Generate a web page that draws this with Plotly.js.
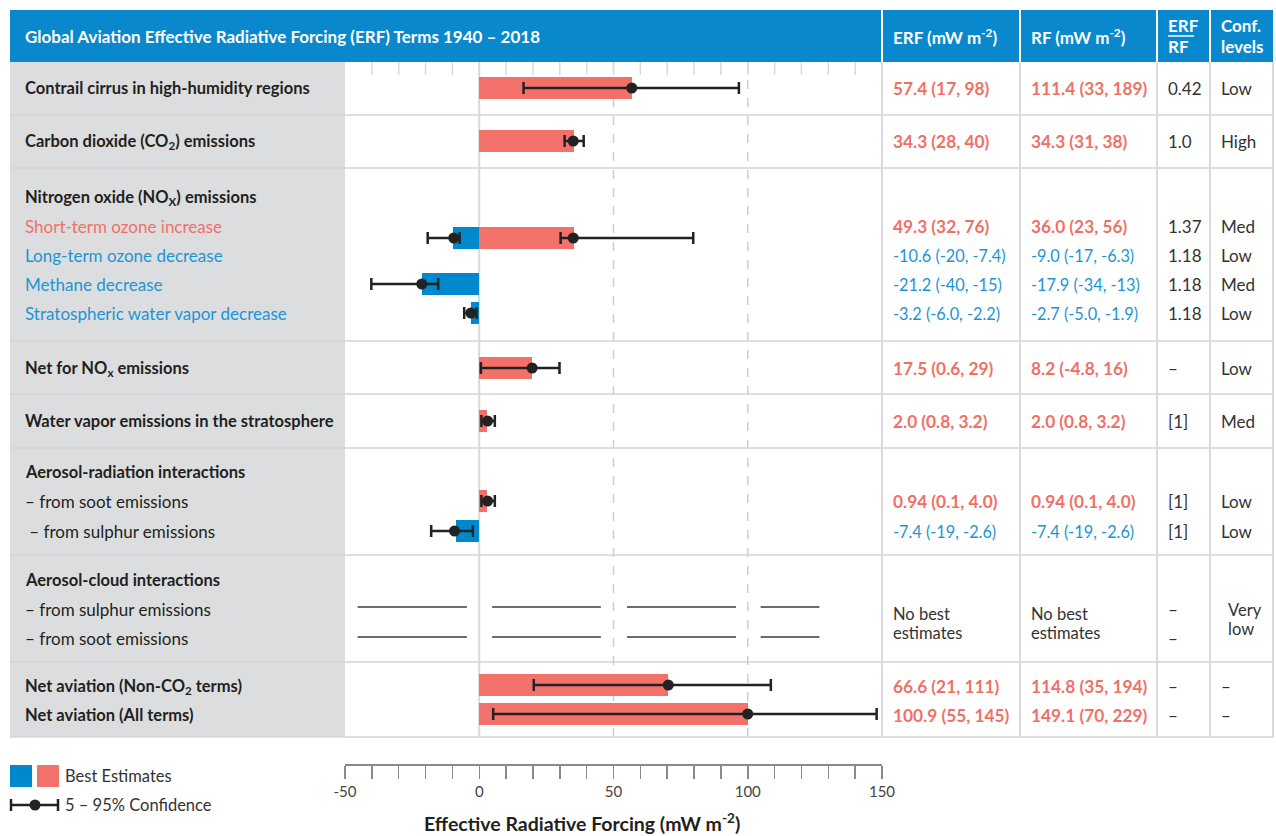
<!DOCTYPE html>
<html><head><meta charset="utf-8">
<script src="https://cdn.plot.ly/plotly-3.0.1.min.js"></script>
<style>html,body{margin:0;padding:0;background:#fff}#chart{width:1276px;height:836px}</style>
</head><body><div id="chart"></div><script>
// ---------------- data ----------------
const barTerms = ["Contrail cirrus", "Carbon dioxide", "Short-term ozone increase", "Long-term ozone decrease",
  "Methane decrease", "Stratospheric water vapor decrease", "Net for NOx", "Water vapor (stratosphere)",
  "Soot (aerosol-radiation)", "Sulphur (aerosol-radiation)", "Net aviation (Non-CO2)", "Net aviation (All)"];
const barValues = [57.0, 35.3, 35.3, -9.9, -21.4, -3.1, 19.8, 3.0, 3.0, -8.8, 70.4, 100.0];
const bestValues = [56.8, 35.0, 35.0, -9.5, -21.4, -3.1, 19.7, 3.1, 3.1, -9.2, 70.4, 100.0];
const lowValues = [16.5, 31.8, 30.3, -19.2, -40.2, -5.6, 0.6, 0.8, 0.8, -17.9, 20.3, 5.2];
const highValues = [96.7, 38.9, 79.7, -7.3, -15.3, -1.0, 29.9, 5.8, 5.8, -2.4, 108.6, 148.0];

const rowLabels = ["Contrail cirrus in high-humidity regions", "Carbon dioxide (CO<sub>2</sub>) emissions",
  "Nitrogen oxide (NO<sub>X</sub>) emissions", "Short-term ozone increase", "Long-term ozone decrease",
  "Methane decrease", "Stratospheric water vapor decrease", "Net for NO<sub>x</sub> emissions",
  "Water vapor emissions in the stratosphere", "Aerosol-radiation interactions", "– from soot emissions",
  " – from sulphur emissions", "Aerosol-cloud interactions", "– from sulphur emissions", "– from soot emissions",
  "Net aviation (Non-CO<sub>2</sub> terms)", "Net aviation (All terms)"];
const erfText = ["57.4 (17, 98)", "34.3 (28, 40)", "", "49.3 (32, 76)", "-10.6 (-20, -7.4)", "-21.2 (-40, -15)",
  "-3.2 (-6.0, -2.2)", "17.5 (0.6, 29)", "2.0 (0.8, 3.2)", "", "0.94 (0.1, 4.0)", "-7.4 (-19, -2.6)", "", "", "",
  "66.6 (21, 111)", "100.9 (55, 145)"];
const rfText = ["111.4 (33, 189)", "34.3 (31, 38)", "", "36.0 (23, 56)", "-9.0 (-17, -6.3)", "-17.9 (-34, -13)",
  "-2.7 (-5.0, -1.9)", "8.2 (-4.8, 16)", "2.0 (0.8, 3.2)", "", "0.94 (0.1, 4.0)", "-7.4 (-19, -2.6)", "", "", "",
  "114.8 (35, 194)", "149.1 (70, 229)"];
const ratioText = ["0.42", "1.0", "", "1.37", "1.18", "1.18", "1.18", "–", "[1]", "", "[1]", "[1]", "", "–", "–", "–", "–"];
const confText = ["Low", "High", "", "Med", "Low", "Med", "Low", "Low", "Med", "", "Low", "Low", "", "", "", "–", "–"];
const noEstimateText = ["No best", "estimates"];
const veryLowText = ["Very", "low"];
const axisTickVals = [-50, 0, 50, 100, 150];
const axisTickLabels = ["-50", "0", "50", "100", "150"];
const minorStep = 10;

// ---------------- layout (positions & styles) ----------------
const W = 1276, H = 836;
const px = v => v / W;
const py = v => 1 - v / H;
const barSlotY = [88, 141, 238, 238, 284, 313, 368, 421, 501, 531, 685, 714];
const lineY = [88, 141, 197, 226, 255, 284, 313, 368, 421, 472, 501, 531, 580, 609, 638, 686, 715];
const labelStyle = ["b","b","b","r","bl","bl","bl","b","b","b","d","d","b","d","d","b","b"];
const valueStyle = ["r","r","","r","bl","bl","bl","r","r","","r","bl","","","","r","r"];
const rowLines = [115, 168, 341, 394, 448, 555, 662, 737];
const colLines = [882, 1020, 1157, 1210, 1273];

const FONT = "Lato, 'Open Sans', sans-serif";
const DARK = "#231f20", RED = "#f07067", BLUE = "#1b95d5";
const BAR_RED = "#f2716b", BAR_BLUE = "#0088cc", HEAD = "#0a88cd", GRAY = "#dcdddf", LINE = "#d4d4d4";

const shapes = [];
const rect = (x0, y0, x1, y1, fill) => shapes.push({type:"rect", xref:"paper", yref:"paper", layer:"below",
  x0:px(x0), x1:px(x1), y0:py(y0), y1:py(y1), fillcolor:fill, line:{width:0}});
const pline = (x0, y0, x1, y1, color, w, dash) => shapes.push({type:"line", xref:"paper", yref:"paper", layer:"below",
  x0:px(x0), x1:px(x1), y0:py(y0), y1:py(y1), line:{color:color, width:w, dash:dash || "solid"}});
const xline = (x0, y0, x1, y1, color, w, dash) => shapes.push({type:"line", xref:"x", yref:"paper", layer:"below",
  x0:x0, x1:x1, y0:py(y0), y1:py(y1), line:{color:color, width:w, dash:dash || "solid"}});

rect(10, 10, 1273, 62, HEAD);
[882, 1020, 1157, 1210].forEach(x => pline(x, 10, x, 62, "#ffffff", 2));
rect(10, 62, 345, 737, GRAY);
rowLines.forEach(y => pline(10, y, 1273, y, LINE, 1.5));
colLines.forEach(x => pline(x, 62, x, 737, "#dadada", 2));
// chart grid
xline(0, 62, 0, 737, "#d9d9d9", 2);
[50, 100].forEach(v => xline(v, 62, v, 737, "#cfcfcf", 1.5, "dash"));
for (let v = -50 + minorStep; v < 150; v += minorStep) xline(v, 62, v, 75, "#d9d9d9", 1.5);
// "no best estimate" placeholder lines
const placeholderSegs = [[-45.3, -4.6], [4.8, 45.3], [55, 95.6], [104.8, 126.7]];
[607, 637].forEach(y => placeholderSegs.forEach(s => xline(s[0], y, s[1], y, "#3a3a3a", 1.5)));
// legend symbols
rect(10, 765, 32, 787, BAR_BLUE);
rect(37, 765, 59, 787, BAR_RED);
pline(11, 805, 58, 805, "#222", 2.5);
pline(11, 799, 11, 811, "#222", 2.5);
pline(58, 799, 58, 811, "#222", 2.5);
shapes.push({type:"circle", xref:"paper", yref:"paper", layer:"above", x0:px(29.5), x1:px(40.5), y0:py(799.5), y1:py(810.5),
  fillcolor:"#222", line:{width:0}});
// ERF/RF fraction bar
pline(1168, 36, 1194, 36, "#ffffff", 1.5);

const annotations = [];
const ann = (text, x, y, color, size, bold, extra) => annotations.push(Object.assign({
  text: bold ? "<b>" + text + "</b>" : text, xref:"paper", yref:"paper", x:px(x - 2), y:py(y),
  xanchor:"left", yanchor:"middle", showarrow:false, font:{family:FONT, size:size, color:color}}, extra || {}));

// header
ann("Global Aviation Effective Radiative Forcing (ERF) Terms 1940 – 2018", 25, 36, "#fff", 17, true);
ann("ERF (mW m<sup>-2</sup>)", 893, 36, "#fff", 17, true);
ann("RF (mW m<sup>-2</sup>)", 1031, 36, "#fff", 17, true);
ann("ERF", 1168, 26, "#fff", 17, true);
ann("RF", 1168, 46, "#fff", 17, true);
ann("Conf.", 1221, 26, "#fff", 17, true);
ann("levels", 1221, 46, "#fff", 17, true);

const colorOf = s => s === "r" ? RED : s === "bl" ? BLUE : DARK;
rowLabels.forEach((t, i) => {
  const st = labelStyle[i];
  ann(t, 25, lineY[i], colorOf(st), st === "b" ? 16.5 : 17, st === "b");
  const vs = valueStyle[i];
  const vsize = vs === "r" ? 17.3 : 16.3;
  if (erfText[i]) ann(erfText[i], 893, lineY[i], colorOf(vs), vsize, vs === "r");
  if (rfText[i]) ann(rfText[i], 1031, lineY[i], colorOf(vs), vsize, vs === "r");
  if (ratioText[i]) ann(ratioText[i], 1168, lineY[i], "#333", 17, false);
  if (confText[i]) ann(confText[i], 1221, lineY[i], "#333", 17, false);
});
noEstimateText.forEach((t, k) => { ann(t, 893, 614 + 19 * k, "#333", 16.5, false); ann(t, 1031, 614 + 19 * k, "#333", 16.5, false); });
veryLowText.forEach((t, k) => ann(t, 1228, 610 + 19 * k, "#333", 16.5, false));

// legend & axis title
ann("Best Estimates", 65, 776, "#333", 16.5, false);
ann("5 – 95% Confidence", 65, 805, "#333", 16.5, false);
annotations.push({text:"<b>Effective Radiative Forcing (mW m<sup>-2</sup>)</b>", xref:"paper", yref:"paper",
  x:px(582), y:0, xanchor:"center", yanchor:"bottom", showarrow:false, borderpad:0,
  font:{family:FONT, size:19.5, color:DARK}});

const traces = [
  {type:"bar", orientation:"h", x:barValues, y:barSlotY, base:0, width:22, name:"Best Estimates",
   hovertext: barTerms, hoverinfo:"text+x", textposition:"none",
   marker:{color:barValues.map(v => v < 0 ? BAR_BLUE : BAR_RED), line:{width:0}}, showlegend:false},
  {type:"scatter", mode:"markers", x:bestValues, y:barSlotY, name:"5 – 95% Confidence", showlegend:false,
   hovertext: barTerms, marker:{color:"#222", size:11},
   error_x:{type:"data", symmetric:false, array:highValues.map((h, i) => h - bestValues[i]),
     arrayminus:lowValues.map((l, i) => bestValues[i] - l), color:"#222", thickness:2.5, width:6}},
  {type:"scatter", mode:"markers", x:[-50, 150], y:[-100, -100], xaxis:"x2", yaxis:"y", hoverinfo:"skip",
   marker:{opacity:0}, showlegend:false}
];

const layout = {
  width: W, height: H, autosize:false,
  margin:{l:0, r:0, t:0, b:0, pad:0},
  paper_bgcolor:"#ffffff", plot_bgcolor:"rgba(0,0,0,0)",
  font:{family:FONT, color:DARK},
  showlegend:false, bargap:0,
  xaxis:{domain:[px(345), px(882)], range:[-50, 150], visible:false, fixedrange:true},
  xaxis2:{domain:[px(345), px(882)], range:[-50, 150], overlaying:"x", anchor:"free", position:py(764), side:"bottom",
    tickmode:"array", tickvals:axisTickVals, ticktext:axisTickLabels, ticks:"outside", ticklen:13, tickwidth:1.5,
    tickcolor:"#8a8a8a", showline:true, linecolor:"#8a8a8a", linewidth:1.5, showgrid:false, zeroline:false,
    minor:{tickmode:"linear", tick0:-50, dtick:minorStep, ticks:"outside", ticklen:13, tickwidth:1.5, tickcolor:"#8a8a8a", showgrid:false},
    tickfont:{family:FONT, size:15, color:"#444"}, fixedrange:true},
  yaxis:{domain:[0, 1], range:[H, 0], visible:false, fixedrange:true},
  shapes: shapes,
  annotations: annotations
};

Plotly.newPlot("chart", traces, layout, {displayModeBar:false, staticPlot:true});
</script></body></html>
